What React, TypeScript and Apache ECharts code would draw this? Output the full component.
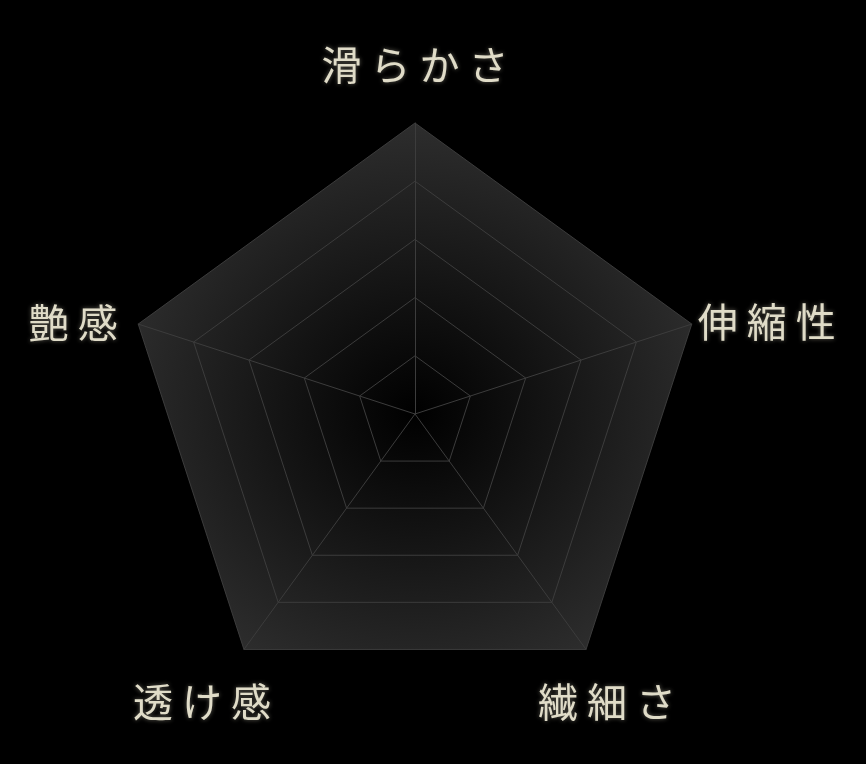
import { useEffect, useRef } from 'react';
import * as echarts from 'echarts';

// clockwise from the top in the picture; ECharts runs counter-clockwise
const indicatorNames = ['滑らかさ', '艶感', '透け感', '繊細さ', '伸縮性'];
const indicatorMax = [5, 5, 5, 5, 5];
// label offsets from each vertex: [top, right, bottom, left] padding
const namePadding: number[][] = [
  [0, 0, 120, 0],
  [0, 130, 6, 0],
  [102, 84, 0, 0],
  [102, 0, 0, 42],
  [0, 0, 8, 150],
];

export default function App() {
  const ref = useRef<HTMLDivElement>(null);

  useEffect(() => {
    if (!ref.current) return;
    const chart = echarts.init(ref.current, null, { renderer: 'svg' });
    const rich: Record<string, object> = {};
    namePadding.forEach((padding, i) => {
      rich['n' + i] = {
        color: '#e0dcc8',
        fontSize: 40,
        fontFamily: "'Noto Sans CJK JP', sans-serif",
        textShadowColor: 'rgba(240,235,210,0.4)',
        textShadowBlur: 4,
        padding,
      };
    });
    chart.setOption({
      animation: false,
      backgroundColor: '#000000',
      radar: {
        center: [415, 414],
        radius: 291,
        startAngle: 90,
        splitNumber: 5,
        shape: 'polygon',
        nameGap: 0,
        indicator: indicatorNames.map((name, i) => ({ name, max: indicatorMax[i] })),
        axisName: {
          color: '#e0dcc8',
          fontSize: 40,
          fontFamily: "'Noto Sans CJK JP', sans-serif",
          align: 'center',
          verticalAlign: 'middle',
          rich,
          formatter: (name: string) => {
            const i = indicatorNames.indexOf(name);
            return '{n' + i + '|' + name.split('').join(' ') + '}';
          },
        },
        axisLine: { lineStyle: { color: '#3c3c3c', width: 1 } },
        splitLine: { lineStyle: { color: '#3c3c3c', width: 1 } },
        splitArea: {
          show: true,
          areaStyle: {
            color: {
              type: 'radial',
              x: 0.5,
              y: 0.55,
              r: 0.62,
              colorStops: [
                { offset: 0, color: '#000000' },
                { offset: 1, color: '#333333' },
              ],
            },
          },
        },
      },
    });
    return () => chart.dispose();
  }, []);

  return (
    <div
      ref={ref}
      style={{ position: 'fixed', left: 0, top: 0, width: 866, height: 764 }}
    />
  );
}
